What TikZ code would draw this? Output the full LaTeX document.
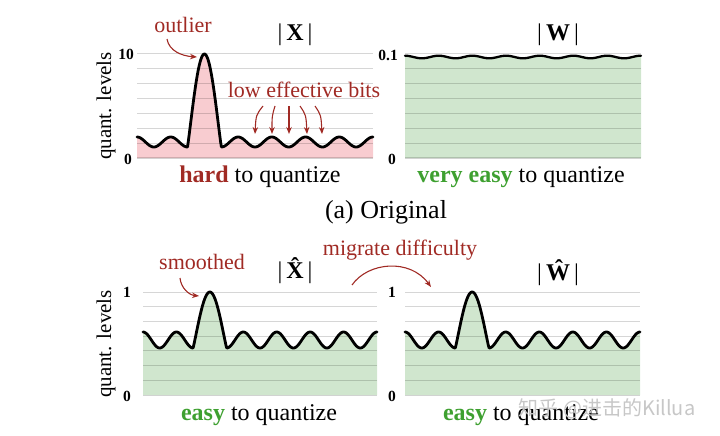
\documentclass[tikz,border=0pt]{standalone}
\usepackage{fontspec}
\setmainfont{Liberation Serif}
\newfontfamily\cjkfont{Noto Sans CJK SC}
\usetikzlibrary{arrows.meta}
\definecolor{darkred}{RGB}{160,42,36}
\definecolor{easygreen}{RGB}{62,160,48}
\definecolor{lightpink}{RGB}{248,204,208}
\definecolor{lightgreen}{RGB}{208,230,206}
\begin{document}
\begin{tikzpicture}[x=1pt,y=-1pt,
        declare function={bump(\u)=(1-\u*\u)*(1-0.33*\u*\u);
            pos(\x,\s,\p)=min(abs((\x-\s-2*\p)/(\p/2)),1);
            sig(\x,\s,\p,\c,\a,\h)=(pos(\x,\s,\p)<1) ? (\c+\a-\h*bump(pos(\x,\s,\p))) : (\c-\a*cos((\x-\s)/\p*360));},
        gridline/.style={black, opacity=0.16, line width=1pt},
        curve/.style={line width=2.8pt, line join=round, line cap=round},
        note/.style={text=darkred, font=\fontsize{22}{24}\selectfont},
        caption/.style={font=\fontsize{24}{28}\selectfont},
        title/.style={font=\fontsize{24}{28}\selectfont},
        ticklab/.style={font=\fontsize{15.5}{17}\selectfont\bfseries, anchor=east, inner sep=2pt},
        axlab/.style={font=\fontsize{21}{24}\selectfont, rotate=90},
        arr/.style={darkred, line width=1.1pt, -{Stealth[length=7pt,width=5.5pt]}}]
        \useasboundingbox (0,0) rectangle (720,436);

        % top left: |X|
        \fill[lightpink] plot[domain=137:373, samples=300] (\x, {sig(\x,137,33.71,142,5,93)}) -- (373,158) -- (137,158) -- cycle;
        \foreach \i in {0,...,7}
            \draw[gridline] (137,{54+\i*14.857}) -- (373,{54+\i*14.857});
        \draw[curve] plot[domain=137:373, samples=300] (\x, {sig(\x,137,33.71,142,5,93)});
        \node[ticklab] (xten) at (136,54) {10};
        \node[ticklab] (xzero) at (134,159) {0};
        \node[axlab] (ylabtop) at (106,106) {quant. levels};
        \node[title] (tx) at (295,35) {|\,\textbf{X}\,|};
        \node[caption] (caphard) at (260,177) {\textcolor{darkred}{\textbf{hard}} to quantize};

        \node[note] (outl) at (183,25) {outlier};
        \coordinate (outA) at (167,39);
        \coordinate (peakA) at (197,57);
        \draw[arr] (outA) .. controls (169,51) and (182,56) .. (peakA);

        \node[note] (lowbits) at (304,90) {low effective bits};
        \coordinate (lb1) at (263,106);
        \coordinate (lb2) at (275,106);
        \coordinate (lb3) at (289,106);
        \coordinate (lb4) at (300,106);
        \coordinate (lb5) at (315,106);
        \coordinate (wv1) at (255,134);
        \coordinate (wv2) at (272,134);
        \coordinate (wv3) at (289,134);
        \coordinate (wv4) at (307,134);
        \coordinate (wv5) at (322,134);
        \draw[arr] (lb1) .. controls (256,115) .. (wv1);
        \draw[arr] (lb2) .. controls (272,116) .. (wv2);
        \draw[arr] (lb3) -- (wv3);
        \draw[arr] (lb4) .. controls (306,115) .. (wv4);
        \draw[arr] (lb5) .. controls (321,115) .. (wv5);

        % top right: |W|
        \fill[lightgreen] plot[domain=405:641, samples=200] (\x, {57-1.3*cos((\x-405)/33.7*360)}) -- (641,158) -- (405,158) -- cycle;
        \foreach \i in {0,...,7}
            \draw[gridline] (405,{54+\i*14.857}) -- (641,{54+\i*14.857});
        \draw[line width=2.3pt, line cap=round] plot[domain=405:641, samples=200] (\x, {57-1.3*cos((\x-405)/33.7*360)});
        \node[ticklab] (wtop) at (400,55) {0.1};
        \node[ticklab] (wzero) at (398,159) {0};
        \node[title] (tw) at (558,35) {|\,\textbf{W}\,|};
        \node[caption] (capveasy) at (521,177) {\textcolor{easygreen}{\textbf{very easy}} to quantize};

        \node[font=\fontsize{26}{30}\selectfont] (orig) at (386,212) {(a) Original};

        % bottom left: |X hat|
        \fill[lightgreen] plot[domain=143:377, samples=300] (\x, {sig(\x,143,33.43,340,8,56)}) -- (377,395) -- (143,395) -- cycle;
        \foreach \i in {0,...,7}
            \draw[gridline] (143,{292+\i*14.714}) -- (377,{292+\i*14.714});
        \draw[curve] plot[domain=143:377, samples=300] (\x, {sig(\x,143,33.43,340,8,56)});
        \node[ticklab] (xhone) at (133,292) {1};
        \node[ticklab] (xhzero) at (133,396) {0};
        \node[axlab] (ylabbot) at (106,344) {quant. levels};
        \node[title] (txh) at (295,273) {|\,\textbf{\ooalign{X\cr\hidewidth\raisebox{0.17em}{\char"02C6}\hidewidth\cr}}\,|};
        \node[caption] (capeasyx) at (259,415) {\textcolor{easygreen}{\textbf{easy}} to quantize};

        \node[note] (smooth) at (202,262) {smoothed};
        \coordinate (smA) at (180,278);
        \coordinate (peakB) at (199,296);
        \draw[arr] (smA) .. controls (181,288) and (189,295) .. (peakB);

        \node[note] (migr) at (400,250) {migrate difficulty};
        \coordinate (migA) at (352,285);
        \coordinate (migB) at (431,287);
        \draw[arr] (migA) .. controls (368,262) and (410,258) .. (migB);

        % bottom right: |W hat|
        \fill[lightgreen] plot[domain=405:640, samples=300] (\x, {sig(\x,405,33.57,340,8,56)}) -- (640,395) -- (405,395) -- cycle;
        \foreach \i in {0,...,7}
            \draw[gridline] (405,{292+\i*14.714}) -- (640,{292+\i*14.714});
        \draw[curve] plot[domain=405:640, samples=300] (\x, {sig(\x,405,33.57,340,8,56)});
        \node[ticklab] (whone) at (398,292) {1};
        \node[ticklab] (whzero) at (398,396) {0};
        \node[title] (twh) at (558,273) {|\,\textbf{Ŵ}\,|};
        \node[caption] (capeasyw) at (521,415) {\textcolor{easygreen}{\textbf{easy}} to quantize};

        \node[text=black!22, font=\cjkfont\fontsize{20}{24}\selectfont] (wmark) at (607,409) {知乎 @进击的Killua};
    \end{tikzpicture}
\end{document}
